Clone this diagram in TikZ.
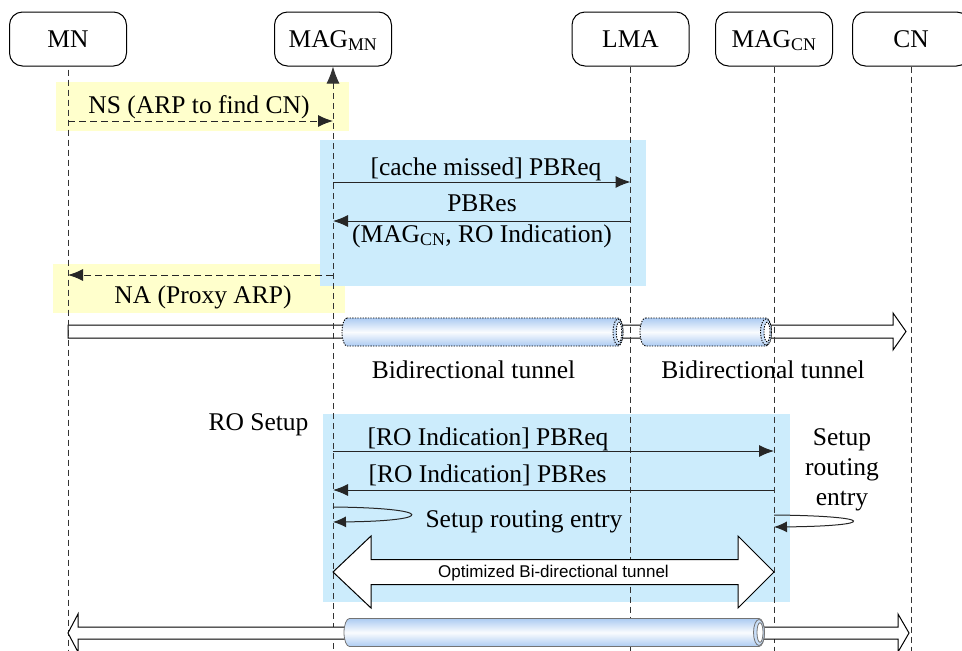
\documentclass[tikz,border=0pt]{standalone}
\usepackage{fontspec}
\setmainfont{Liberation Serif}
\newfontfamily\arialf{Liberation Sans}
\usetikzlibrary{arrows.meta}
\definecolor{bluebg}{RGB}{204,236,252}
\definecolor{yellowbg}{RGB}{255,255,204}
\definecolor{tubeA}{RGB}{172,203,242}
\definecolor{tubeB}{RGB}{200,222,248}
\newcommand\tubeshape[6]{%
  \path[tubebody,#6] (#1+#5,#3-#4) -- (#2,#3-#4) arc[start angle=-90,end angle=90,x radius=#5,y radius=#4] -- (#1+#5,#3+#4) arc[start angle=90,end angle=270,x radius=#5,y radius=#4] -- cycle;
  \path[tubeface,#6] (#2,#3) ellipse[x radius=#5,y radius=#4-1];
  \path[tubeface,#6,fill=white] (#2+1,#3) ellipse[x radius=#5*0.55,y radius=#4*0.7];
}
\begin{document}
\begin{tikzpicture}[x=1pt,y=-1pt,
  font=\fontsize{25.5}{30}\selectfont,
  actor/.style={draw, line width=1pt, rounded corners=13pt, minimum width=117pt,
    minimum height=54pt, text height=16.5pt, text depth=0pt, inner sep=0pt, fill=white},
  life/.style={draw=black!80, line width=0.9pt, dash pattern=on 6pt off 4pt},
  msg/.style={draw=black!85, line width=1pt, -{Latex[length=15pt,width=12pt]}},
  dmsg/.style={msg, dash pattern=on 7pt off 4pt},
  lbl/.style={inner sep=0pt, anchor=base},
  bigarrow/.style={draw=black, line width=1pt, fill=white, line join=miter},
  tubebody/.style={top color=tubeA, bottom color=tubeA, middle color=white!94!tubeA,
    draw=black, line width=0.9pt, dash pattern=on 1.3pt off 1.3pt},
  tubeface/.style={fill=tubeB, draw=black, line width=0.9pt, dash pattern=on 1.3pt off 1.3pt},
  soldtube/.style={draw=black!55, line width=0.8pt, solid}
]
\useasboundingbox (0,0) rectangle (962,651);

% background boxes
\fill[yellowbg] (56,82) rectangle (349,131);
\fill[yellowbg] (53,264) rectangle (345,313);
\fill[bluebg] (320,140) rectangle (646,286);
\fill[bluebg] (323,414) rectangle (790,602);

% actors
\node[actor] (mn) at (68,39) {MN};
\node[actor] (magmn) at (333,39) {MAG\textsubscript{MN}};
\node[actor] (lma) at (630.5,39) {LMA};
\node[actor] (magcn) at (774,39) {MAG\textsubscript{CN}};
\node[actor] (cn) at (911,39) {CN};

% top tunnel row
\draw[bigarrow] (68,325) -- (893,325) -- (893,313) -- (906,331.5) -- (893,350) -- (893,338) -- (68,338) -- cycle;
\tubeshape{342}{618}{332}{14}{5}{}
\tubeshape{640}{766}{332}{14}{5.5}{}

% lifelines
\coordinate (mnend) at (mn.south |- 0,651);
\coordinate (magmnend) at (magmn.south |- 0,651);
\coordinate (lmaend) at (lma.south |- 0,651);
\coordinate (magcnend) at (magcn.south |- 0,651);
\coordinate (cnend) at (cn.south |- 0,651);
\draw[life] ([yshift=-3pt]mn.south) -- (mnend);
\draw[life, {Latex[length=17pt,width=13pt]}-] (magmn.south) -- (magmnend);
\draw[life] (lma.south) -- (lmaend);
\draw[life] (magcn.south) -- (magcnend);
\draw[life] (cn.south) -- (cnend);

% NS / NA
\draw[dmsg] (mn.south |- 0,121) -- (magmn.south |- 0,121);
\node[lbl] (tns) at (199,113) {NS (ARP to find CN)};
\draw[dmsg] (magmn.south |- 0,275) -- (mn.south |- 0,275);
\node[lbl] (tna) at (203,303) {NA (Proxy ARP)};

% PBReq / PBRes
\draw[msg] (magmn.south |- 0,182) -- (lma.south |- 0,182);
\node[lbl] (treq) at (486,175) {[cache missed] PBReq};
\draw[msg] (lma.south |- 0,221) -- (magmn.south |- 0,221);
\node[lbl] (tres) at (482,211) {PBRes};
\node[lbl] (tres2) at (482,242) {(MAG\textsubscript{CN}, RO Indication)};

% tunnel labels
\node[lbl] (tb1) at (473.5,378) {Bidirectional tunnel};
\node[lbl] (tb2) at (763,378) {Bidirectional tunnel};
\node[lbl] (tro) at (258.5,430) {RO Setup};

% RO messages
\draw[msg] (magmn.south |- 0,451) -- (magcn.south |- 0,451);
\node[lbl] (troreq) at (488,445) {[RO Indication] PBReq};
\draw[msg] (magcn.south |- 0,490) -- (magmn.south |- 0,490);
\node[lbl] (trores) at (487.5,482) {[RO Indication] PBRes};

% setup loops
\coordinate (l1s) at (magmn.south |- 0,507);
\coordinate (l1e) at (magmn.south |- 0,522);
\draw[msg, -{Latex[length=13pt,width=11pt]}] (l1s) .. controls (436,508) and (436,521) .. (l1e);
\node[lbl] (tsetup1) at (524,527) {Setup routing entry};
\coordinate (l2s) at (magcn.south |- 0,515);
\coordinate (l2e) at (magcn.south |- 0,527);
\draw[msg, -{Latex[length=13pt,width=11pt]}] (l2s) .. controls (878,516) and (878,526) .. (l2e);
\node[lbl] (ts2a) at (842,445) {Setup};
\node[lbl] (ts2b) at (842,475) {routing};
\node[lbl] (ts2c) at (842,505) {entry};

% optimized tunnel
\draw[bigarrow] (333,572) -- (371,536) -- (371,559.5) -- (738,559.5) -- (738,536) -- (774,572) -- (738,608) -- (738,584.5) -- (371,584.5) -- (371,608) -- cycle;
\node[lbl, font=\arialf\fontsize{17}{20}\selectfont] (topt) at (553.5,577) {Optimized Bi-directional tunnel};

% bottom row
\draw[bigarrow] (68,633) -- (78,614) -- (78,627) -- (898,627) -- (898,614) -- (909,633) -- (898,652) -- (898,639) -- (78,639) -- (78,652) -- cycle;
\tubeshape{344}{759}{632.5}{14}{5.5}{soldtube}
\end{tikzpicture}
\end{document}
